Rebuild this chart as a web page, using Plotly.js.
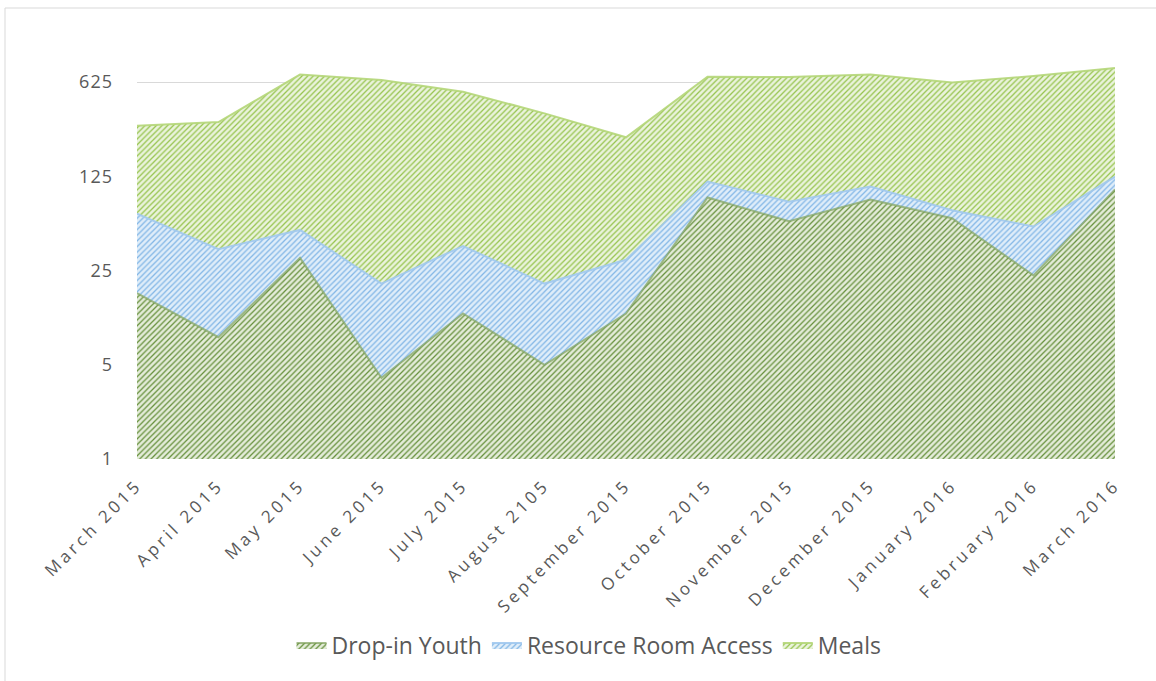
<!DOCTYPE html>
<html>
<head>
<meta charset="utf-8">
<script src="https://cdn.plot.ly/plotly-3.0.1.min.js"></script>
<style>
  html, body { margin: 0; padding: 0; background: #fff; }
  #chart { width: 1156px; height: 681px; }
  #chart .xtick text { letter-spacing: 3.5px; }
  #chart .ytick text { letter-spacing: 1px; }
</style>
</head>
<body>
<div id="chart"></div>
<script>
// Category labels (as in the source, including its typo)
var months = ['March 2015', 'April 2015', 'May 2015', 'June 2015', 'July 2015', 'August 2105',
  'September 2015', 'October 2015', 'November 2015', 'December 2015', 'January 2016',
  'February 2016', 'March 2016'];

// Series values (stacked)
var dropInYouth = [17, 8, 31, 4, 12, 5, 12, 87, 58, 84, 61, 23, 100];
var resourceRoomAccess = [49, 28, 19, 16, 26, 15, 18, 27, 23, 21, 9, 30, 24];
var meals = [230, 279, 659, 626, 492, 346, 213, 570, 599, 604, 550, 638, 670];

// Y-axis ticks (log base 5)
var yTickVals = [1, 5, 25, 125, 625];
var yTickText = ['1', '5', '25', '125', '625'];

var traces = [
  {
    name: 'Drop-in Youth', x: months, y: dropInYouth, type: 'scatter', mode: 'lines',
    stackgroup: 'one',
    line: { color: 'rgba(125,160,90,0.7)', width: 2 },
    fillcolor: '#e3ebd8',
    fillpattern: { shape: '/', fgcolor: '#66903c', bgcolor: '#e4ecd9', size: 4, solidity: 0.32 }
  },
  {
    name: 'Resource Room Access', x: months, y: resourceRoomAccess, type: 'scatter', mode: 'lines',
    stackgroup: 'one',
    line: { color: 'rgba(160,200,238,0.9)', width: 2 },
    fillcolor: '#dcebf8',
    fillpattern: { shape: '/', fgcolor: '#82b6e6', bgcolor: '#dfedf9', size: 4, solidity: 0.32 }
  },
  {
    name: 'Meals', x: months, y: meals, type: 'scatter', mode: 'lines',
    stackgroup: 'one',
    line: { color: 'rgba(180,214,120,0.9)', width: 2 },
    fillcolor: '#e8f2d8',
    fillpattern: { shape: '/', fgcolor: '#96c44e', bgcolor: '#eaf3dc', size: 4, solidity: 0.32 }
  }
];

var plotLeft = 137, plotRight = 1115, plotTop = 60, plotBottom = 459;
var W = 1156, H = 681;
var pw = plotRight - plotLeft, ph = plotBottom - plotTop;

var layout = {
  width: W, height: H,
  margin: { l: plotLeft, r: W - plotRight, t: plotTop, b: H - plotBottom, pad: 0 },
  paper_bgcolor: '#ffffff',
  plot_bgcolor: '#ffffff',
  showlegend: true,
  font: { family: 'Open Sans, sans-serif', color: '#595959' },
  xaxis: {
    type: 'category',
    range: [0, months.length - 1],
    showgrid: false,
    zeroline: false,
    showline: false,
    ticks: '',
    tickangle: -45,
    ticklabelstandoff: 12,
    tickfont: { family: 'Open Sans, sans-serif', size: 17, color: '#595959' },
    fixedrange: true
  },
  yaxis: {
    type: 'log',
    range: [0, Math.log10(625) * ph / (459 - 82)],
    tickvals: yTickVals,
    ticktext: yTickText,
    showgrid: true,
    gridcolor: '#d9d9d9',
    gridwidth: 1,
    zeroline: false,
    showline: false,
    ticks: '',
    ticklabelstandoff: 23,
    tickfont: { family: 'Open Sans, sans-serif', size: 18, color: '#595959' },
    fixedrange: true
  },
  legend: {
    orientation: 'h',
    x: (589 - plotLeft) / pw, xanchor: 'center',
    y: (plotBottom - 645) / ph, yanchor: 'middle',
    traceorder: 'normal',
    font: { family: 'Open Sans, sans-serif', size: 23, color: '#595959' },
    itemwidth: 30,
    bgcolor: 'rgba(0,0,0,0)'
  },
  shapes: [
    {
      type: 'rect', xref: 'paper', yref: 'paper', layer: 'below',
      x0: (5 - plotLeft) / pw, x1: (1170 - plotLeft) / pw,
      y0: (plotBottom - 700) / ph, y1: (plotBottom - 8) / ph,
      line: { color: '#d9d9d9', width: 1 }, fillcolor: 'rgba(0,0,0,0)'
    }
  ]
};

Plotly.newPlot('chart', traces, layout, { displayModeBar: false, staticPlot: true });
</script>
</body>
</html>
